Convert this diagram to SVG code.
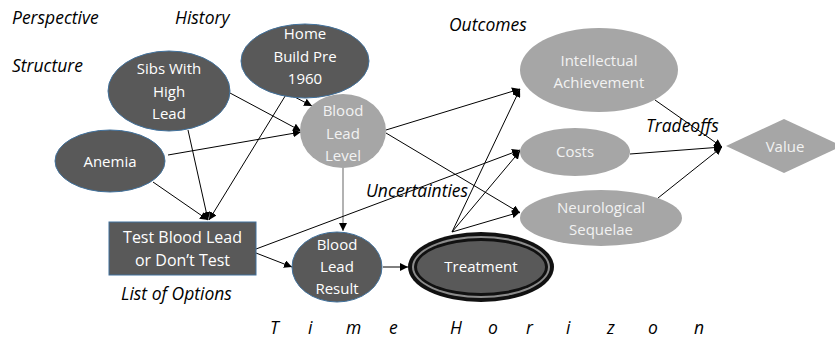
<svg xmlns="http://www.w3.org/2000/svg" width="835" height="339" viewBox="0 0 835 339">
<defs>
<marker id="ah" viewBox="0 0 10 10" refX="10" refY="5" markerWidth="8" markerHeight="8" markerUnits="userSpaceOnUse" orient="auto">
<path d="M0,0 L10,5 L0,10 z" fill="#000"/>
</marker>
</defs>
<style>
.dark{fill:#595959;stroke:#41719c;stroke-width:1}
.light{fill:#a6a6a6;stroke:none}
.nt{font-family:"Open Sans","Liberation Sans",sans-serif;font-size:15px;fill:#fff;text-anchor:middle}
.lt{font-family:"Open Sans","Liberation Sans",sans-serif;font-size:15px;fill:#f2f2f2;text-anchor:middle}
.lab{font-family:"Open Sans","Liberation Sans",sans-serif;font-size:17.5px;font-style:italic;fill:#000}
.c{stroke:#000;stroke-width:1;fill:none}
.ca{stroke:#000;stroke-width:1;fill:none;marker-end:url(#ah)}
</style>
<rect width="835" height="339" fill="#fff"/>
<g id="labels">
<text class="lab" x="12" y="24">Perspective</text>
<text class="lab" x="175" y="24">History</text>
<text class="lab" x="12" y="72">Structure</text>
<text class="lab" x="449" y="31">Outcomes</text>
<text class="lab" x="646" y="132">Tradeoffs</text>
<text class="lab" x="366" y="197">Uncertainties</text>
<text class="lab" x="121" y="300">List of Options</text>
<text class="lab" x="270 308 346 389 420 450 488 526 566 607 648 694" y="334">Time Horizon</text>
</g>
<g id="connectors">
<line class="ca" x1="230" y1="93" x2="301" y2="131"/>
<line class="ca" x1="287" y1="93" x2="312" y2="106"/>
<line class="ca" x1="168" y1="155" x2="301" y2="132"/>
<line class="ca" x1="188" y1="130" x2="208" y2="220"/>
<line class="ca" x1="287" y1="93" x2="209" y2="220"/>
<line class="ca" x1="153" y1="182" x2="208" y2="220"/>
<line x1="343" y1="168" x2="343" y2="231" stroke="#7f7f7f" stroke-width="1.2" marker-end="url(#ah)"/>
<line class="ca" x1="256" y1="253" x2="292" y2="267"/>
<line class="ca" x1="256" y1="249" x2="520" y2="150"/>
<line class="ca" x1="386" y1="130" x2="520" y2="89"/>
<line class="ca" x1="386" y1="133" x2="520" y2="213"/>
<line class="ca" x1="452" y1="232" x2="520" y2="89"/>
<line class="ca" x1="452" y1="232" x2="520" y2="151"/>
<line class="ca" x1="452" y1="232" x2="520" y2="212"/>
<line class="ca" x1="383" y1="267" x2="408" y2="267"/>
<line class="ca" x1="655" y1="100" x2="722" y2="147"/>
<line class="ca" x1="630" y1="154" x2="722" y2="147"/>
<line class="ca" x1="658" y1="198" x2="722" y2="147"/>
</g>
<g id="sibs">
<ellipse class="dark" cx="169" cy="91" rx="61" ry="40"/>
<text class="nt" x="169" y="74">Sibs With</text>
<text class="nt" x="169" y="97">High</text>
<text class="nt" x="169" y="119">Lead</text>
</g>
<g id="home">
<ellipse class="dark" cx="305" cy="61" rx="64" ry="37"/>
<text class="nt" x="305" y="39">Home</text>
<text class="nt" x="305" y="62">Build Pre</text>
<text class="nt" x="305" y="84">1960</text>
</g>
<g id="anemia">
<ellipse class="dark" cx="110" cy="161" rx="55" ry="31"/>
<text class="nt" x="110" y="167">Anemia</text>
</g>
<g id="bll">
<ellipse class="light" cx="343" cy="131" rx="43" ry="37"/>
<text class="lt" x="343" y="116">Blood</text>
<text class="lt" x="343" y="139">Lead</text>
<text class="lt" x="343" y="161">Level</text>
</g>
<g id="test">
<rect class="dark" x="109" y="222" width="147" height="53"/>
<text class="nt" x="182.5" y="243" style="font-size:16px">Test Blood Lead</text>
<text class="nt" x="182.5" y="266" style="font-size:16px">or Don’t Test</text>
</g>
<g id="blr">
<ellipse class="dark" cx="337" cy="267" rx="45" ry="35"/>
<text class="nt" x="337" y="250">Blood</text>
<text class="nt" x="337" y="272">Lead</text>
<text class="nt" x="337" y="294">Result</text>
</g>
<g id="treatment">
<ellipse cx="481" cy="267" rx="73" ry="35" fill="#111"/>
<ellipse cx="481" cy="267" rx="69" ry="31" fill="#8c8c8c"/>
<ellipse cx="481" cy="267" rx="67" ry="29" fill="#111"/>
<ellipse cx="481" cy="267" rx="64" ry="26" fill="#595959"/>
<text class="nt" x="481" y="272">Treatment</text>
</g>
<g id="intellectual">
<ellipse class="light" cx="599" cy="70" rx="79" ry="42"/>
<text class="lt" x="599" y="66">Intellectual</text>
<text class="lt" x="599" y="88">Achievement</text>
</g>
<g id="costs">
<ellipse class="light" cx="575" cy="152" rx="55" ry="24"/>
<text class="lt" x="575" y="157">Costs</text>
</g>
<g id="neuro">
<ellipse class="light" cx="601" cy="218" rx="81" ry="28"/>
<text class="lt" x="601" y="213">Neurological</text>
<text class="lt" x="601" y="235">Sequelae</text>
</g>
<g id="value">
<polygon class="light" points="726,146 784,119 842,146 784,173"/>
<text class="lt" x="785" y="152">Value</text>
</g>
</svg>
